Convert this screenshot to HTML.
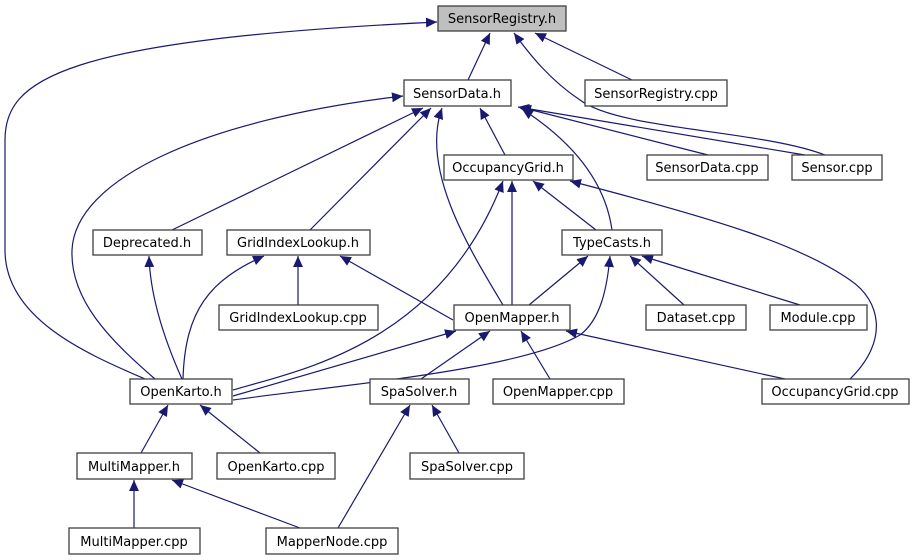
<!DOCTYPE html>
<html><head><meta charset="utf-8"><style>
html,body{margin:0;padding:0;background:#fff}
svg{display:block}
text{font-family:"DejaVu Sans",sans-serif;font-size:13px;fill:#000}
.n{fill:#fff;stroke:#404040;stroke-width:1.3}
.e{fill:none;stroke:#191970;stroke-width:1.2}
</style></head><body>
<svg width="915" height="560" viewBox="0 0 915 560">
<defs><marker id="a" viewBox="0 0 10 10" refX="10" refY="5" markerWidth="11" markerHeight="11" markerUnits="userSpaceOnUse" orient="auto"><path d="M0,0.5L10,5L0,9.5z" fill="#191970"/></marker></defs>
<g class="e" marker-end="url(#a)">
<path d="M468,80 L490,33"/>
<path d="M632,80 L535,33"/>
<path d="M825,155 C760,130 620,130 580,100 C550,80 530,55 514,33"/>
<path d="M145,379 C90,355 5,320 5,250 V140 C5,80 60,40 437,22"/>
<path d="M155,379 C110,340 70,300 72,250 C75,180 200,120 403,96"/>
<path d="M172,230 L423,108"/>
<path d="M310,230 L431,108"/>
<path d="M503,305 C470,250 420,170 442,108"/>
<path d="M505,155 L480,108"/>
<path d="M708,155 L520,107"/>
<path d="M805,155 L518,107"/>
<path d="M612,230 C605,180 570,140 522,109"/>
<path d="M182,379 C160,330 150,290 149,256"/>
<path d="M183,379 C185,310 210,280 264,256"/>
<path d="M298,305 V256"/>
<path d="M453,320 L340,256"/>
<path d="M233,396 L456,331"/>
<path d="M233,390 C300,370 440,345 503,181"/>
<path d="M512,305 V181"/>
<path d="M596,230 L533,181"/>
<path d="M850,379 C890,340 880,300 850,280 C800,245 720,220 570,181"/>
<path d="M529,305 L588,256"/>
<path d="M233,400 C340,385 520,370 580,335 C600,320 607,290 610,256"/>
<path d="M684,305 L630,256"/>
<path d="M800,305 L642,256"/>
<path d="M421,379 L490,331"/>
<path d="M550,379 L521,331"/>
<path d="M785,379 L566,331"/>
<path d="M141,453 L168,405"/>
<path d="M260,453 L200,405"/>
<path d="M134,528 V480"/>
<path d="M300,528 L172,480"/>
<path d="M338,528 L410,405"/>
<path d="M459,453 L432,405"/>
</g>
<rect x="438" y="6" width="128" height="25" fill="#bfbfbf" stroke="#404040" stroke-width="1.3"/>
<rect class="n" x="404" y="80" width="107" height="26"/>
<rect class="n" x="585" y="80" width="142" height="26"/>
<rect class="n" x="444" y="155" width="129" height="25"/>
<rect class="n" x="647" y="155" width="121" height="25"/>
<rect class="n" x="792" y="155" width="90" height="25"/>
<rect class="n" x="93" y="230" width="109" height="25"/>
<rect class="n" x="227" y="230" width="143" height="25"/>
<rect class="n" x="562" y="230" width="100" height="25"/>
<rect class="n" x="219" y="305" width="159" height="25"/>
<rect class="n" x="454" y="305" width="116" height="25"/>
<rect class="n" x="646" y="305" width="100" height="25"/>
<rect class="n" x="770" y="305" width="97" height="25"/>
<rect class="n" x="130" y="379" width="102" height="25"/>
<rect class="n" x="370" y="379" width="99" height="25"/>
<rect class="n" x="493" y="379" width="131" height="25"/>
<rect class="n" x="762" y="379" width="147" height="25"/>
<rect class="n" x="77" y="453" width="115" height="26"/>
<rect class="n" x="217" y="453" width="118" height="26"/>
<rect class="n" x="410" y="453" width="114" height="26"/>
<rect class="n" x="69" y="528" width="131" height="26"/>
<rect class="n" x="266" y="528" width="132" height="26"/>
<g text-anchor="middle">
<text x="502" y="23">SensorRegistry.h</text>
<text x="457" y="98">SensorData.h</text>
<text x="656" y="98">SensorRegistry.cpp</text>
<text x="508" y="172">OccupancyGrid.h</text>
<text x="707" y="172">SensorData.cpp</text>
<text x="837" y="172">Sensor.cpp</text>
<text x="147" y="247">Deprecated.h</text>
<text x="298" y="247">GridIndexLookup.h</text>
<text x="612" y="247">TypeCasts.h</text>
<text x="298" y="322">GridIndexLookup.cpp</text>
<text x="512" y="322">OpenMapper.h</text>
<text x="696" y="322">Dataset.cpp</text>
<text x="818" y="322">Module.cpp</text>
<text x="181" y="396">OpenKarto.h</text>
<text x="419" y="396">SpaSolver.h</text>
<text x="558" y="396">OpenMapper.cpp</text>
<text x="835" y="396">OccupancyGrid.cpp</text>
<text x="134" y="471">MultiMapper.h</text>
<text x="276" y="471">OpenKarto.cpp</text>
<text x="467" y="471">SpaSolver.cpp</text>
<text x="134" y="546">MultiMapper.cpp</text>
<text x="332" y="546">MapperNode.cpp</text>
</g>
</svg>
</body></html>
